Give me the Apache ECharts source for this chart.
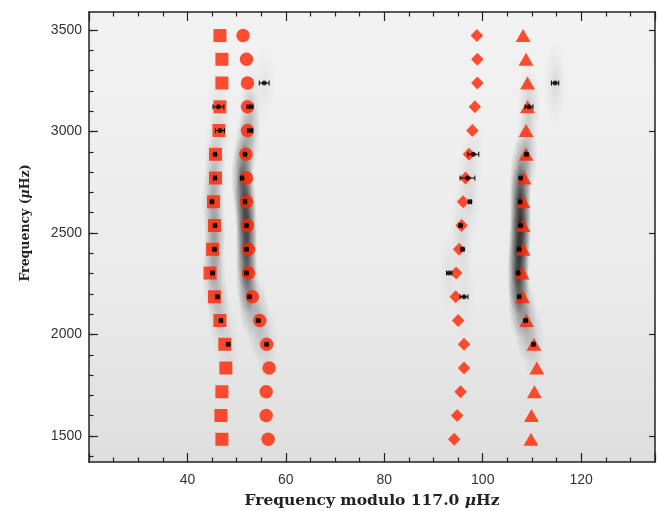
<!DOCTYPE html>
<html><head><meta charset="utf-8">
<script src="https://cdn.jsdelivr.net/npm/echarts@6/dist/echarts.min.js"></script>
<style>html,body{margin:0;padding:0;background:#fff}#c{width:659px;height:511px}</style>
</head><body><div id="c"></div>
<script>
// Row frequencies (µHz), top to bottom
const rowFreq = [3473,3356,3239,3122,3005,2888,2771,2654,2537,2420,2303,2186,2069,1952,1835,1718,1601,1484];
// Model modes: x = frequency modulo 117.0 µHz, one per row
const modelL2 = [46.6,47.0,47.0,46.6,46.4,45.7,45.7,45.3,45.5,45.1,44.6,45.5,46.6,47.6,47.8,47.0,46.8,47.0];
const modelL0 = [51.3,52.0,52.2,52.2,52.2,51.9,52.0,52.0,52.2,52.4,52.4,53.2,54.7,56.1,56.6,56.0,56.0,56.4];
const modelL3 = [98.8,98.9,98.9,98.4,97.9,97.2,96.5,96.0,95.7,95.2,94.6,94.5,95.0,96.2,96.2,95.5,94.8,94.2];
const modelL1 = [108.2,108.8,109.1,109.1,108.8,108.8,108.4,108.2,108.2,108.2,108.0,108.1,108.9,110.4,111.0,110.5,109.9,109.8];

// Observed modes
const obsL2Freq  = [3122,3005,2888,2771,2654,2537,2420,2303,2186,2069,1952];
const obsL2X     = [46.3,46.6,45.6,45.6,45.0,45.6,45.5,45.1,46.1,46.8,48.3];
const obsL2Err   = [1.1,0.9,0.3,0.3,0.3,0.3,0.3,0.3,0.3,0.3,0.3];
const obsL2Power = [0.05,0.07,0.12,0.18,0.22,0.25,0.25,0.22,0.18,0.12,0.08];

const obsL0Freq  = [3239,3122,3005,2888,2771,2654,2537,2420,2303,2186,2069,1952];
const obsL0X     = [55.6,52.7,52.7,51.7,51.1,51.7,52.0,52.0,52.0,52.6,54.4,56.1];
const obsL0Err   = [1.0,0.6,0.5,0.3,0.3,0.3,0.3,0.3,0.3,0.3,0.3,0.3];
const obsL0Power = [0.05,0.14,0.22,0.32,0.50,0.65,0.65,0.58,0.48,0.36,0.24,0.12];

const obsL3Freq  = [2888,2771,2654,2537,2420,2303,2186];
const obsL3X     = [98.1,96.9,97.4,95.5,95.9,93.2,96.2];
const obsL3Err   = [1.1,1.5,0.3,0.3,0.3,0.55,0.8];
const obsL3Power = [0.05,0.06,0.07,0.07,0.07,0.06,0.05];

const obsL1Freq  = [3239,3122,2888,2771,2654,2537,2420,2303,2186,2069,1952];
const obsL1X     = [114.7,109.4,108.9,107.7,107.6,107.7,107.4,107.2,107.4,108.7,110.3];
const obsL1Err   = [0.75,0.8,0.3,0.3,0.3,0.3,0.3,0.3,0.3,0.3,0.3];
const obsL1Power = [0.10,0.16,0.28,0.45,0.65,0.75,0.75,0.65,0.50,0.32,0.15];

// Tick values
const yMajorTicks = [1500,2000,2500,3000,3500];
const yMinorTicks = [1400,1500,1600,1700,1800,1900,2000,2100,2200,2300,2400,2500,2600,2700,2800,2900,3000,3100,3200,3300,3400,3500];

const RED = '#ff2400';
const pairs = (xs) => xs.map((x, i) => [x, rowFreq[i]]);
const obsData = (f, x, e) => f.map((v, i) => [x[i], v, e[i]]);
const ridgeData = [];
[[obsL2Freq,obsL2X,obsL2Power],[obsL0Freq,obsL0X,obsL0Power],[obsL3Freq,obsL3X,obsL3Power],[obsL1Freq,obsL1X,obsL1Power]]
  .forEach(([f,x,p]) => f.forEach((v,i) => ridgeData.push([x[i], v, p[i]])));
const allObs = [].concat(obsData(obsL2Freq,obsL2X,obsL2Err), obsData(obsL0Freq,obsL0X,obsL0Err),
  obsData(obsL3Freq,obsL3X,obsL3Err), obsData(obsL1Freq,obsL1X,obsL1Err));

const chart = echarts.init(document.getElementById('c'), null, {renderer:'canvas'});
const axisCol = '#222';
const tickFont = {fontSize:14, color:'#333', fontFamily:'Liberation Sans'};
const serif = 'DejaVu Serif';
const xTitleFont = {fontSize:15.5, fontWeight:'bold', color:'#222', fontFamily:serif,
  rich:{i:{fontSize:15.5, fontWeight:'bold', fontStyle:'italic', color:'#222', fontFamily:serif}}};
const yTitleFont = {fontSize:12.5, fontWeight:'bold', color:'#222', fontFamily:serif, padding:[0,0,0,28],
  rich:{i:{fontSize:12.5, fontWeight:'bold', fontStyle:'italic', color:'#222', fontFamily:serif}}};

chart.setOption({
  animation:false,
  backgroundColor:'#fff',
  grid:{left:89, right:4, top:12, bottom:49, show:true, borderWidth:0, containLabel:false, outerBoundsMode:'none',
    backgroundColor:{type:'linear',x:0,y:0,x2:0,y2:1,colorStops:[
      {offset:0,color:'#f2f2f2'},{offset:0.6,color:'#ebebeb'},{offset:1,color:'#dedede'}]}},
  xAxis:[
    {type:'value', position:'bottom', min:20, max:135, interval:20,
     axisLine:{show:true, onZero:false, lineStyle:{color:axisCol, width:1.5}},
     axisTick:{show:true, inside:true, length:9, lineStyle:{color:axisCol, width:1.2}},
     minorTick:{show:true, splitNumber:4, length:4.5, lineStyle:{color:axisCol, width:1.2}},
     axisLabel:{...tickFont, showMinLabel:false, showMaxLabel:false, margin:11},
     splitLine:{show:false},
     name:'Frequency modulo 117.0 {i|μ}Hz', nameLocation:'middle', nameGap:31, nameTextStyle:xTitleFont},
    {type:'value', position:'top', min:20, max:135, interval:20,
     axisLine:{show:true, onZero:false, lineStyle:{color:axisCol, width:1.5}},
     axisTick:{show:true, inside:true, length:9, lineStyle:{color:axisCol, width:1.2}},
     minorTick:{show:true, splitNumber:4, length:4.5, lineStyle:{color:axisCol, width:1.2}},
     axisLabel:{show:false}, splitLine:{show:false}}
  ],
  yAxis:[
    {type:'value', position:'left', min:1372, max:3589,
     axisLine:{show:true, onZero:false, lineStyle:{color:axisCol, width:1.5}},
     axisTick:{show:true, inside:true, length:9, customValues:yMajorTicks, lineStyle:{color:axisCol, width:1.2}},
     axisLabel:{...tickFont, customValues:yMajorTicks, margin:7, formatter:(v) => String(v)},
     splitLine:{show:false},
     name:'Frequency ({i|μ}Hz)', nameLocation:'middle', nameGap:57, nameRotate:90, nameTextStyle:yTitleFont},
    {type:'value', position:'left', min:1372, max:3589,
     axisLine:{show:false},
     axisTick:{show:true, inside:true, length:4.5, customValues:yMinorTicks, lineStyle:{color:axisCol, width:1.2}},
     axisLabel:{show:false}, splitLine:{show:false}},
    {type:'value', position:'right', min:1372, max:3589,
     axisLine:{show:true, onZero:false, lineStyle:{color:axisCol, width:1.5}},
     axisTick:{show:true, inside:true, length:6, customValues:yMajorTicks, lineStyle:{color:axisCol, width:1.2}},
     axisLabel:{show:false}, splitLine:{show:false}}
  ],
  series:[
    {type:'custom', name:'power', z:1, silent:true, clip:true, data:ridgeData,
     renderItem:(params, api) => {
       const c = api.coord([api.value(0), api.value(1)]);
       const p = api.value(2);
       return {type:'circle', x:c[0], y:c[1], scaleY:3.8,
         shape:{cx:0, cy:0, r:11},
         style:{fill:{type:'radial', x:0.5, y:0.5, r:0.5, colorStops:[
           {offset:0, color:'rgba(0,0,0,'+p+')'},
           {offset:0.45, color:'rgba(0,0,0,'+(p*0.45)+')'},
           {offset:1, color:'rgba(0,0,0,0)'}]}}};
     }},
    {type:'scatter', name:'l=2', z:3, symbol:'rect', symbolSize:13, itemStyle:{color:RED}, data:pairs(modelL2)},
    {type:'scatter', name:'l=0', z:3, symbol:'circle', symbolSize:13.5, itemStyle:{color:RED}, data:pairs(modelL0)},
    {type:'scatter', name:'l=3', z:3, symbol:'diamond', symbolSize:[12.5,13], itemStyle:{color:RED}, data:pairs(modelL3)},
    {type:'scatter', name:'l=1', z:3, symbol:'triangle', symbolSize:[15,13], itemStyle:{color:RED}, data:pairs(modelL1)},
    {type:'custom', name:'errors', z:4, silent:true, data:allObs,
     renderItem:(params, api) => {
       const x = api.value(0), y = api.value(1), e = api.value(2);
       const a = api.coord([x - e, y]), b = api.coord([x + e, y]);
       const cap = 2.5;
       const st = {stroke:'#000', lineWidth:1};
       return {type:'group', children:[
         {type:'line', shape:{x1:a[0], y1:a[1], x2:b[0], y2:b[1]}, style:st},
         {type:'line', shape:{x1:a[0], y1:a[1]-cap, x2:a[0], y2:a[1]+cap}, style:st},
         {type:'line', shape:{x1:b[0], y1:b[1]-cap, x2:b[0], y2:b[1]+cap}, style:st}]};
     }},
    {type:'scatter', name:'observed', z:5, symbol:'circle', symbolSize:5, itemStyle:{color:'#000'},
     data:allObs.map(d => [d[0], d[1]])}
  ]
});
</script>
</body></html>
